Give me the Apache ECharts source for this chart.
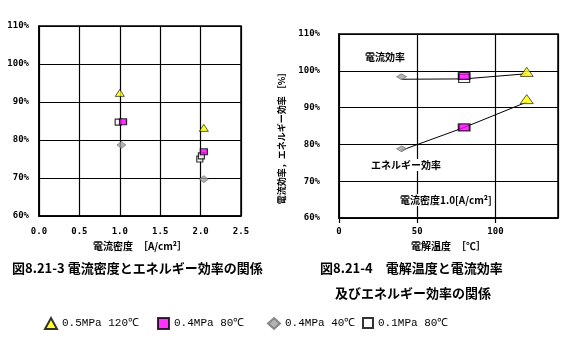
<!DOCTYPE html>
<html><head><meta charset="utf-8">
<script src="https://cdn.jsdelivr.net/npm/echarts@6/dist/echarts.min.js"></script>
<style>html,body{margin:0;padding:0;background:#fff}#c{width:565px;height:362px}</style>
</head><body><div id="c"></div>
<script>
// ---- Left chart (図8.21-3) : current density vs energy efficiency ----
const leftXTicks = [0, 0.5, 1.0, 1.5, 2.0, 2.5];
const leftYTicks = [60, 70, 80, 90, 100, 110];
const left05MPa120 = [[1.0, 92.4], [2.04, 83.2]];
const left04MPa80 = [[1.04, 84.8], [2.04, 76.9]];
const left04MPa40 = [[1.02, 78.7], [2.04, 69.7]];
const left01MPa80 = [[0.98, 84.7], [1.99, 75.0], [2.01, 75.8]];

// ---- Right chart (図8.21-4) : electrolysis temperature vs efficiencies ----
const temps = [40, 80, 120];
const currentEffMarkers = [98.4, 98.6, 99.7];
const currentEffLine = [97.7, 97.8, 99.2];
const energyEffMarkers = [78.8, 84.6, 92.3];
const energyEffLine = [78.4, 84.6, 91.5];
const white80Current = [[80, 97.9]];

const legendNames = ['0.5MPa 120℃', '0.4MPa 80℃', '0.4MPa 40℃', '0.1MPa 80℃'];

const pair = (xs, ys) => xs.map((x, i) => [x, ys[i]]);
const lblFont = {color: '#000', fontSize: 9, fontFamily: 'DejaVu Sans Mono', fontWeight: 'bold'};
const cjk = '"Noto Sans CJK JP"';

const chart = echarts.init(document.getElementById('c'));
chart.setOption({
  animation: false,
  backgroundColor: '#fff',
  grid: [
    {left: 39, top: 26, width: 202, height: 190, show: true, borderColor: '#000', borderWidth: 1.5},
    {left: 339, top: 34, width: 219, height: 184, show: true, borderColor: '#000', borderWidth: 1.5}
  ],
  xAxis: [
    {gridIndex: 0, type: 'value', min: 0, max: 2.5, interval: 0.5,
     axisLine: {lineStyle: {color: '#000', width: 1.5}}, axisTick: {show: false},
     splitLine: {lineStyle: {color: '#000', width: 1.2}},
     axisLabel: Object.assign({margin: 11, formatter: v => v.toFixed(1)}, lblFont),
     name: '電流密度　［A/cm²］', nameLocation: 'middle', nameGap: 22,
     nameTextStyle: {color: '#000', fontSize: 10, fontWeight: 'bold', fontFamily: cjk}},
    {gridIndex: 1, type: 'value', min: 0, max: 140, interval: 50,
     axisLine: {lineStyle: {color: '#000', width: 1.5}},
     axisTick: {show: true, length: 5, lineStyle: {color: '#000', width: 1.2}},
     splitLine: {lineStyle: {color: '#000', width: 1.2}},
     axisLabel: Object.assign({margin: 9, showMaxLabel: false}, lblFont),
     name: '電解温度　［℃］', nameLocation: 'middle', nameGap: 21,
     nameTextStyle: {color: '#000', fontSize: 10, fontWeight: 'bold', fontFamily: cjk}}
  ],
  yAxis: [
    {gridIndex: 0, type: 'value', min: 60, max: 110, interval: 10,
     axisLine: {lineStyle: {color: '#000', width: 1.5}}, axisTick: {show: false},
     splitLine: {lineStyle: {color: '#000', width: 1.2}},
     axisLabel: Object.assign({margin: 10, formatter: '{value}%'}, lblFont)},
    {gridIndex: 1, type: 'value', min: 60, max: 110, interval: 10,
     axisLine: {lineStyle: {color: '#000', width: 1.5}}, axisTick: {show: false},
     splitLine: {lineStyle: {color: '#000', width: 1.2}},
     axisLabel: Object.assign({margin: 19, formatter: '{value}%'}, lblFont),
     name: '電流効率，エネルギー効率 ［%］', nameLocation: 'middle', nameGap: 53, nameRotate: 90,
     nameTextStyle: {color: '#000', fontSize: 9, fontWeight: 'bold', fontFamily: cjk, padding: [0, 0, 0, -20]}}
  ],
  legend: legendNames.map((n, i) => ({
    data: [n], left: [39, 152, 262, 357][i], top: 312, itemWidth: [12, 11, 12, 10][i], itemHeight: [11, 11, 11, 10][i],
    selectedMode: false,
    textStyle: {color: '#000', fontSize: 11, fontFamily: 'Liberation Mono'}
  })),
  series: [
    {name: legendNames[0], type: 'scatter', xAxisIndex: 0, yAxisIndex: 0, data: left05MPa120,
     symbol: 'triangle', symbolSize: [9, 7], itemStyle: {color: '#ffff00', borderColor: '#000', borderWidth: 0.8}, z: 5},
    {name: legendNames[3], type: 'scatter', xAxisIndex: 0, yAxisIndex: 0, data: left01MPa80,
     symbol: 'rect', symbolSize: [6, 6], itemStyle: {color: '#fff', borderColor: '#000', borderWidth: 1.2}, z: 4},
    {name: legendNames[1], type: 'scatter', xAxisIndex: 0, yAxisIndex: 0, data: left04MPa80,
     symbol: 'rect', symbolSize: [7, 6], itemStyle: {color: '#ff00ff', borderColor: '#000', borderWidth: 1.2}, z: 5},
    {name: legendNames[2], type: 'scatter', xAxisIndex: 0, yAxisIndex: 0, data: left04MPa40,
     symbol: 'diamond', symbolSize: [9, 7], itemStyle: {color: '#a0a0a0', borderColor: '#707070', borderWidth: 0.8}, z: 5},

    {name: 'ce-line', type: 'line', xAxisIndex: 1, yAxisIndex: 1, data: pair(temps, currentEffLine),
     showSymbol: false, lineStyle: {color: '#000', width: 1}, z: 3},
    {name: 'ee-line', type: 'line', xAxisIndex: 1, yAxisIndex: 1, data: pair(temps, energyEffLine),
     showSymbol: false, lineStyle: {color: '#000', width: 1}, z: 3},
    {name: 'r-tri', type: 'scatter', xAxisIndex: 1, yAxisIndex: 1,
     data: [[temps[2], currentEffMarkers[2]], [temps[2], energyEffMarkers[2]]],
     symbol: 'triangle', symbolSize: [13, 9], itemStyle: {color: '#ffff00', borderColor: '#000', borderWidth: 0.8}, z: 5},
    {name: 'r-white', type: 'scatter', xAxisIndex: 1, yAxisIndex: 1, data: white80Current,
     symbol: 'rect', symbolSize: [11, 8], itemStyle: {color: '#fff', borderColor: '#000', borderWidth: 1}, z: 4},
    {name: 'r-mag', type: 'scatter', xAxisIndex: 1, yAxisIndex: 1,
     data: [[temps[1], currentEffMarkers[1]], [temps[1], energyEffMarkers[1]]],
     symbol: 'rect', symbolSize: [11, 7], itemStyle: {color: '#ff00ff', borderColor: '#000', borderWidth: 1.5}, z: 5},
    {name: 'r-dia', type: 'scatter', xAxisIndex: 1, yAxisIndex: 1,
     data: [[temps[0], currentEffMarkers[0]], [temps[0], energyEffMarkers[0]]],
     symbol: 'diamond', symbolSize: [10, 6], itemStyle: {color: '#a0a0a0', borderColor: '#707070', borderWidth: 0.8}, z: 5}
  ],
  graphic: [
    {type: 'text', left: 365, top: 52, z: 10, style: {text: '電流効率', fill: '#000', font: 'bold 10px ' + cjk, backgroundColor: '#fff'}},
    {type: 'text', left: 369, top: 159, z: 10, style: {text: 'エネルギー効率', fill: '#000', font: 'bold 10px ' + cjk, backgroundColor: '#fff', padding: [1, 2]}},
    {type: 'text', left: 398, top: 194, z: 10, style: {text: '電流密度1.0[A/cm²]', fill: '#000', font: 'bold 10px ' + cjk, backgroundColor: '#fff', padding: [1, 2]}},
    {type: 'text', left: 12, top: 262, style: {text: '図8.21-3 電流密度とエネルギー効率の関係', fill: '#000', font: 'bold 13px ' + cjk}},
    {type: 'text', left: 320, top: 262, style: {text: '図8.21-4　電解温度と電流効率', fill: '#000', font: 'bold 13px ' + cjk}},
    {type: 'text', left: 335, top: 287, style: {text: '及びエネルギー効率の関係', fill: '#000', font: 'bold 13px ' + cjk}}
  ]
});
</script></body></html>
